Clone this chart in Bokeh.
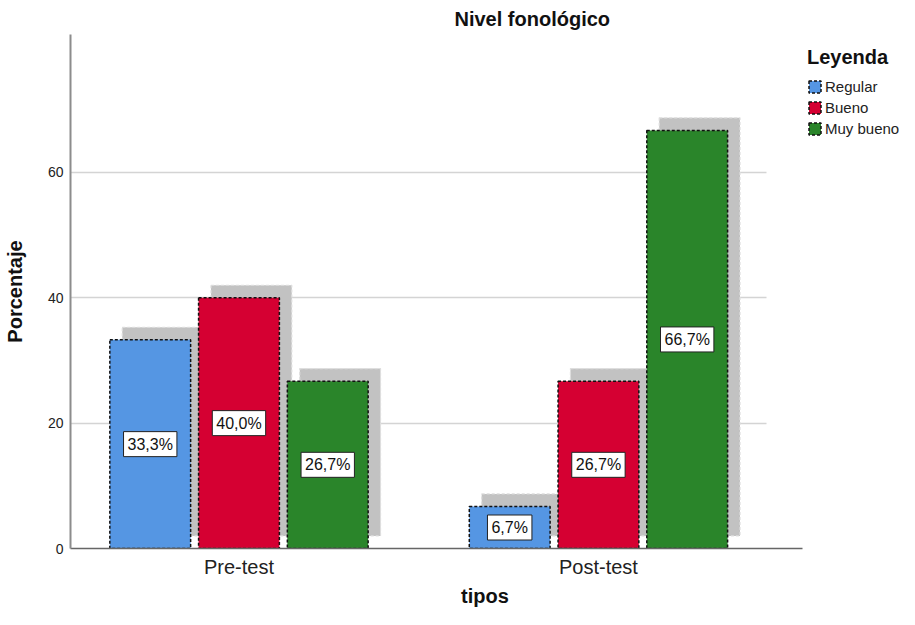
from bokeh.plotting import figure
from bokeh.models import Legend, LegendItem, Label, FixedTicker, Range1d
from bokeh.embed import file_html
from bokeh.resources import INLINE

# ---- data ----
tipos = ["Pre-test", "Post-test"]
leyenda = ["Regular", "Bueno", "Muy bueno"]
regular = [33.3, 6.7]
bueno = [40.0, 26.7]
muy_bueno = [26.7, 66.7]
y_ticks = [0, 20, 40, 60]

series = [regular, bueno, muy_bueno]
colors = ["#5596e3", "#d50032", "#2a852a"]

FONT = "Liberation Sans"
X0 = -0.4687          # left edge of the plotting area
AXIS_END = 1.569      # where the category axis line stops
GRID_END = 1.467      # where the grid lines stop
X1 = X0 + 836 / 362.5 # frame spans to the right edge (legend lives inside)
offsets = [-0.2469, 0.0, 0.2469]
bar_w = 0.2248
shadow_dx = 0.0345
shadow_dy = 2.0

p = figure(width=899, height=609,
           x_range=Range1d(X0, X1), y_range=Range1d(0, 82),
           output_backend="svg", toolbar_location=None,
           min_border_left=63, min_border_right=0,
           min_border_top=29, min_border_bottom=60)

p.outline_line_color = None
p.background_fill_color = "white"
p.border_fill_color = "white"

# grid
p.xgrid.grid_line_color = None
p.ygrid.ticker = FixedTicker(ticks=y_ticks)
p.ygrid.grid_line_color = "#d4d4d4"
p.ygrid.grid_line_width = 1.5
p.ygrid.cross_bounds = (X0, GRID_END)

xs_base = list(range(len(tipos)))

# shadows
for i, vals in enumerate(series):
    xs = [k + offsets[i] + shadow_dx for k in xs_base]
    p.vbar(x=xs, top=[v + shadow_dy for v in vals], bottom=shadow_dy, width=bar_w,
           fill_color="#c2c2c2", line_color="#dedede", line_dash="3 2", line_width=1.2)

# bars
bar_renderers = []
for i, vals in enumerate(series):
    xs = [k + offsets[i] for k in xs_base]
    r = p.vbar(x=xs, top=vals, bottom=0, width=bar_w,
               fill_color=colors[i], line_color="#111111", line_dash="3 2", line_width=1.5)
    bar_renderers.append(r)
    for x, v in zip(xs, vals):
        txt = f"{v:.1f}".replace(".", ",") + "%"
        p.add_layout(Label(x=x, y=v / 2, text=txt, text_align="center", text_baseline="middle",
                           text_font=FONT, text_font_size="16px", text_color="#111111",
                           background_fill_color="white", border_line_color="#222222",
                           border_line_width=1, padding=4))

# axes
p.xaxis.ticker = FixedTicker(ticks=xs_base)
p.xaxis.bounds = (X0, AXIS_END)
p.xaxis.major_label_overrides = {k: t for k, t in zip(xs_base, tipos)}
p.xaxis.major_tick_line_color = None
p.xaxis.major_tick_out = 0
p.xaxis.major_tick_in = 0
p.xaxis.minor_tick_line_color = None
p.xaxis.minor_tick_out = 0
p.xaxis.axis_line_color = "#666666"
p.xaxis.axis_line_width = 1.5
p.xaxis.major_label_text_font = FONT
p.xaxis.major_label_text_font_size = "20px"
p.xaxis.major_label_text_color = "#222222"
p.xaxis.major_label_text_line_height = 0.9
p.xaxis.major_label_standoff = 7
p.xaxis.axis_label = "tipos"
p.xaxis.axis_label_text_font = FONT
p.xaxis.axis_label_text_font_size = "20px"
p.xaxis.axis_label_text_font_style = "bold"
p.xaxis.axis_label_text_color = "#111111"
p.xaxis.axis_label_text_line_height = 0.9
p.xaxis.axis_label_standoff = 4

p.yaxis.ticker = FixedTicker(ticks=y_ticks)
p.yaxis.major_tick_line_color = None
p.yaxis.major_tick_out = 0
p.yaxis.major_tick_in = 0
p.yaxis.minor_tick_line_color = None
p.yaxis.minor_tick_out = 0
p.yaxis.axis_line_color = "#8c8c8c"
p.yaxis.axis_line_width = 2
p.yaxis.major_label_text_font = FONT
p.yaxis.major_label_text_font_size = "14px"
p.yaxis.major_label_text_color = "#222222"
p.yaxis.major_label_standoff = 7
p.yaxis.axis_label = "Porcentaje"
p.yaxis.axis_label_text_font = FONT
p.yaxis.axis_label_text_font_size = "20px"
p.yaxis.axis_label_text_font_style = "bold"
p.yaxis.axis_label_text_color = "#111111"
p.yaxis.axis_label_standoff = 19

# title
p.title.text = "Nivel fonológico"
p.title.align = "left"
p.title.offset = 384
p.title.text_font = FONT
p.title.text_font_size = "20px"
p.title.text_font_style = "bold"
p.title.text_color = "#111111"

# legend (inside the frame, to the right of the axis end)
legend = Legend(items=[LegendItem(label=l, renderers=[r]) for l, r in zip(leyenda, bar_renderers)],
                location=(737, 411), title="Leyenda",
                title_text_font=FONT, title_text_font_size="20px", title_text_font_style="bold",
                title_text_color="#111111", title_standoff=8,
                label_text_font=FONT, label_text_font_size="15px", label_text_color="#222222",
                glyph_width=15, glyph_height=15, label_standoff=3, label_height=18,
                spacing=3, padding=2, margin=0,
                border_line_color=None, background_fill_alpha=0)
p.add_layout(legend, "center")

open("out.html", "w").write(file_html(p, INLINE))
